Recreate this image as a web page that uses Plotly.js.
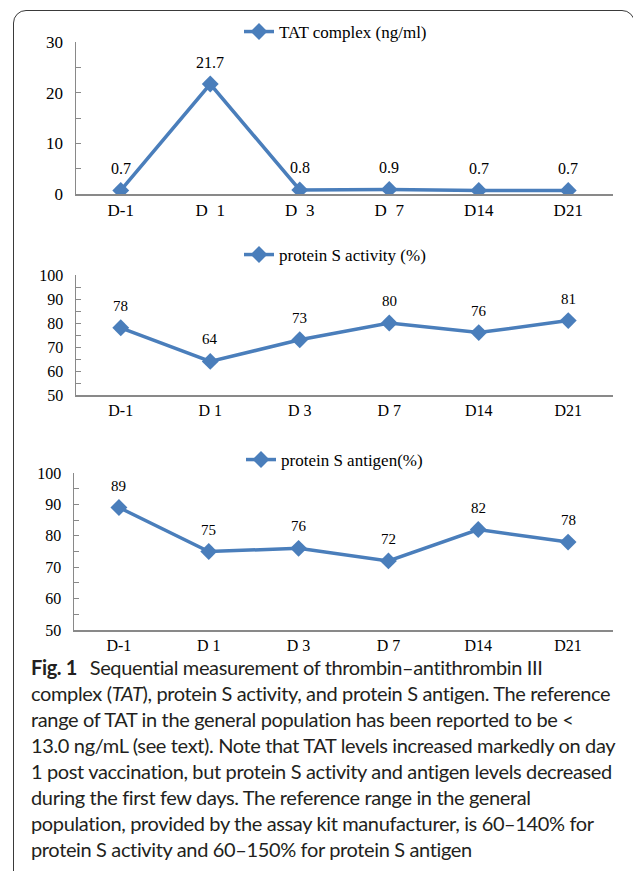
<!DOCTYPE html>
<html>
<head>
<meta charset="utf-8">
<script src="https://cdn.plot.ly/plotly-3.0.1.min.js"></script>
<style>
  html, body { margin: 0; padding: 0; background: #ffffff; width: 633px; height: 871px; overflow: hidden; }
  #frame { position: absolute; left: 13px; top: 10px; width: 622px; height: 900px; box-sizing: border-box;
           border: 1.5px solid #3a3a3a; border-radius: 13px 13px 0 0; }
  #chart { position: absolute; left: 0; top: 0; width: 633px; height: 871px; }
  #caption { position: absolute; left: 31px; top: 654px; font-family: Lato, "Open Sans", sans-serif;
             font-size: 20px; line-height: 26px; color: #231f20; white-space: nowrap; }
  #caption .ln { display: block; }
  #caption b { font-weight: 700; margin-right: 8px; }
</style>
</head>
<body>
<div id="frame"></div>
<div id="chart"></div>
<div id="caption">
  <span class="ln"><b>Fig. 1</b> Sequential measurement of thrombin–antithrombin III</span>
  <span class="ln">complex (<i>TAT</i>), protein S activity, and protein S antigen. The reference</span>
  <span class="ln">range of TAT in the general population has been reported to be &lt;</span>
  <span class="ln">13.0 ng/mL (see text). Note that TAT levels increased markedly on day</span>
  <span class="ln">1 post vaccination, but protein S activity and antigen levels decreased</span>
  <span class="ln">during the first few days. The reference range in the general</span>
  <span class="ln">population, provided by the assay kit manufacturer, is 60–140% for</span>
  <span class="ln">protein S activity and 60–150% for protein S antigen</span>
</div>
<script>
// ---- data ----
const categories = ['D-1', 'D 1', 'D 3', 'D 7', 'D14', 'D21'];
const tatTickLabels = ['D-1', 'D  1', 'D  3', 'D  7', 'D14', 'D21'];
const tatValues = [0.7, 21.7, 0.8, 0.9, 0.7, 0.7];
const psActivityValues = [78, 64, 73, 80, 76, 81];
const psAntigenValues = [89, 75, 76, 72, 82, 78];
const seriesNames = ['TAT complex (ng/ml)', 'protein S activity (%)', 'protein S antigen(%)'];

// ---- styles ----
const blue = '#4A7EBB';
const axisGray = '#898989';
const serif = 'Liberation Serif, Times New Roman, serif';
const W = 633, H = 871;
const px = v => v / W;
const py = v => 1 - v / H;

function trace(vals, name, xa, ya, leg) {
  return {
    type: 'scatter', mode: 'lines+markers', x: categories, y: vals, name: name,
    xaxis: xa, yaxis: ya, legend: leg, showlegend: true,
    line: { color: blue, width: 3.5 },
    marker: { symbol: 'diamond', size: 13, color: blue },
    hoverinfo: 'skip'
  };
}

const data = [
  trace(tatValues, seriesNames[0], 'x', 'y', 'legend'),
  trace(psActivityValues, seriesNames[1], 'x2', 'y2', 'legend2'),
  trace(psAntigenValues, seriesNames[2], 'x3', 'y3', 'legend3')
];

function labels(vals, xref, yref, fmt, size) {
  return vals.map((v, i) => ({
    x: categories[i], y: v, xref: xref, yref: yref, text: fmt(v), showarrow: false,
    xanchor: 'center', yanchor: 'middle', yshift: 22,
    font: { family: serif, size: size, color: '#000' }
  }));
}

const annotations = [].concat(
  labels(tatValues, 'x', 'y', v => v.toFixed(1), 16),
  labels(psActivityValues, 'x2', 'y2', v => String(v), 15),
  labels(psAntigenValues, 'x3', 'y3', v => String(v), 15)
);

function xAxis(domain, anchor, ticktext, size) {
  return {
    domain: domain, anchor: anchor, type: 'category', range: [-0.5, 5.5],
    tickmode: 'array', tickvals: categories, ticktext: ticktext.map(s => s.replace(/ /g, '\u00a0')),
    showline: true, linecolor: axisGray, linewidth: 1.5, ticks: '', showgrid: false, zeroline: false,
    tickfont: { family: serif, size: size, color: '#000' }, fixedrange: true
  };
}
function yAxis(domain, anchor, range, size) {
  return {
    domain: domain, anchor: anchor, range: range, dtick: 10, tick0: 0,
    showline: true, linecolor: axisGray, linewidth: 1.5,
    ticks: 'inside', ticklen: 5, tickwidth: 1, tickcolor: axisGray,
    minor: { dtick: 5, ticks: 'inside', ticklen: 5, tickwidth: 1, tickcolor: axisGray, showgrid: false },
    showgrid: false, zeroline: false, ticklabelstandoff: 8,
    tickfont: { family: serif, size: size, color: '#000' }, fixedrange: true
  };
}

function legendAt(xPix, yPix) {
  return {
    x: px(xPix), y: py(yPix), xanchor: 'left', yanchor: 'middle', orientation: 'v',
    bgcolor: 'rgba(0,0,0,0)', borderwidth: 0,
    font: { family: serif, size: 17, color: '#000' }
  };
}

const layout = {
  width: W, height: H,
  margin: { l: 0, r: 0, t: 0, b: 0 },
  paper_bgcolor: 'rgba(0,0,0,0)', plot_bgcolor: 'rgba(0,0,0,0)',
  xaxis: xAxis([px(76), px(613)], 'y', tatTickLabels, 17),
  yaxis: yAxis([py(194), py(42)], 'x', [0, 30], 17),
  xaxis2: xAxis([px(76), px(613)], 'y2', categories, 16),
  yaxis2: yAxis([py(395), py(275)], 'x2', [50, 100], 16),
  xaxis3: xAxis([px(74), px(613)], 'y3', categories, 16),
  yaxis3: yAxis([py(630), py(473)], 'x3', [50, 100], 16),
  legend: legendAt(239, 32),
  legend2: legendAt(239, 255),
  legend3: legendAt(241, 460),
  annotations: annotations,
  showlegend: true
};

Plotly.newPlot('chart', data, layout, { staticPlot: true, displayModeBar: false });

// fit caption to the reference's condensed face by uniform letter spacing
(function fitCaption() {
  const lines = Array.from(document.querySelectorAll('#caption .ln'));
  const targets = { 1: 582, 3: 583, 4: 581 };
  let measured = 0, target = 0, chars = 0;
  Object.keys(targets).forEach(k => {
    const el = lines[k];
    el.style.display = 'inline-block';
    measured += el.getBoundingClientRect().width;
    el.style.display = 'block';
    target += targets[k];
    chars += el.textContent.length;
  });
  const ls = (target - measured) / chars;
  document.getElementById('caption').style.letterSpacing = ls.toFixed(3) + 'px';
})();
</script>
</body>
</html>
